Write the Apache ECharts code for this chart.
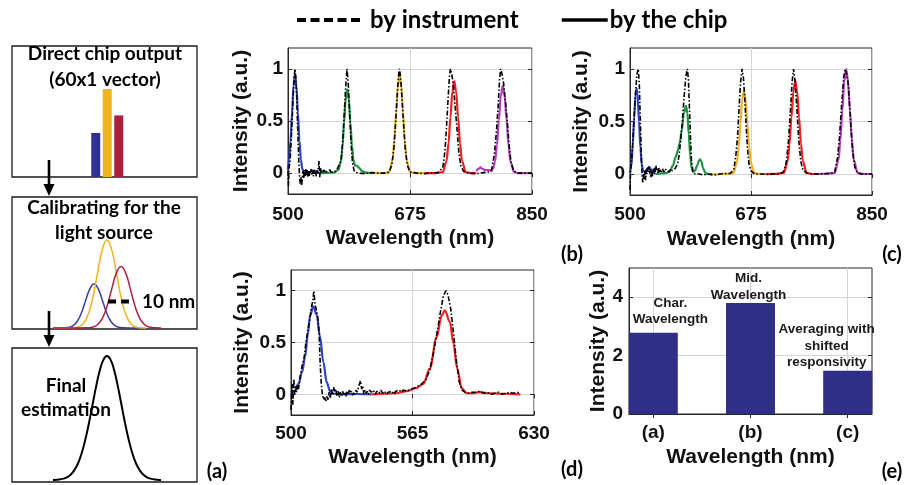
<!DOCTYPE html>
<html><head><meta charset="utf-8">
<script src="https://cdn.jsdelivr.net/npm/echarts@6/dist/echarts.min.js"></script>
<style>html,body{margin:0;padding:0;background:#fff}#c{width:907px;height:485px}</style>
</head><body><div id="c"></div>
<script>
// ---------------- tick labels ----------------
const ticksWideNm = [500, 675, 850];
const ticksZoomNm = [500, 565, 630];
const ticksIntensity = [0, 0.5, 1];
const ticksBarIntensity = [0, 2, 4];

// ---------------- panel (b) ----------------
const bInstrument = [[500,0.02],[500.7,-0.12],[501.5,0.05],[503,0.12],[504.5,0.3],[506,0.52],[507.5,0.75],[509,0.93],[510,1.0],[511,0.93],[512.5,0.72],[514,0.4],[515.5,0.12],[516.5,-0.02],[517.5,-0.1],[518.5,-0.04],[519.5,-0.12],[520.5,-0.06],[521.5,0.02],[522.5,-0.05],[523.5,0.03],[524.5,-0.03],[525.5,0.04],[526.5,-0.02],[527.5,0.03],[528.5,-0.04],[529.5,0.02],[530.5,-0.03],[531.5,0.03],[532.5,0.0],[533.5,0.04],[534.5,-0.02],[535.5,0.02],[536.5,-0.03],[537.5,0.03],[538.5,0.0],[539.5,0.02],[540.5,-0.03],[541.5,0.03],[542.5,0.0],[543.5,0.05],[544.5,0.12],[545.5,-0.04],[546.5,0.05],[547.5,0.0],[548.5,0.03],[550,0.01],[552,0.03],[554,0.0],[556,0.02],[558,0.01],[560,0.03],[562,0.01],[564,0.02],[566,0.01],[568,0.02],[570,0.03],[572,0.03],[576,0.12],[578.5,0.3],[580.5,0.55],[582.5,0.8],[584.6,1.0],[586.5,0.85],[588.5,0.55],[590.5,0.28],[592.5,0.1],[595,0.02],[600,0.0],[610,-0.005],[620,0.005],[630,0.0],[640,0.0],[645,0.01],[649,0.08],[652,0.25],[654.5,0.5],[657,0.78],[659,0.97],[659.7,1.0],[661,0.95],[663,0.78],[665.5,0.5],[668,0.25],[671,0.08],[675,0.01],[685,0.0],[695,-0.005],[705,0.0],[715,0.005],[722,0.05],[725,0.2],[727,0.4],[729.5,0.7],[731.5,0.92],[733,1.0],[735,0.95],[737.5,0.82],[740,0.62],[742.5,0.42],[745,0.2],[748,0.07],[752,0.015],[760,0.0],[770,-0.005],[780,0.005],[787,0.01],[792,0.03],[796,0.18],[799,0.4],[801.5,0.65],[803.5,0.9],[805,1.0],[807,0.95],[809.5,0.85],[812,0.68],[814.5,0.5],[817,0.28],[820,0.1],[824,0.02],[830,0.0],[840,0.0],[850,0.0]];
const bBlue = [[500,0.03],[501.5,0.13],[503.6,0.31],[505.75,0.58],[507.9,0.84],[510,0.95],[512.1,0.84],[514.25,0.58],[516.4,0.31],[518.5,0.13],[520.5,0.04],[522.75,0.01],[527,0.0],[531,0.01],[535,0.025],[539,0.02],[543,0.005],[546,0.0]];
const bGreen = [[546,0],[556,0.003],[566,0.005],[572,0.03],[576,0.108],[578.25,0.26],[580.5,0.485],[582.75,0.706],[585,0.8],[587.25,0.706],[589.5,0.485],[591.75,0.26],[594,0.12],[596,0.075],[599,0.07],[602,0.05],[606,0.02],[612,0.005],[620,0]];
const bYellow = [[620,0],[630,0],[640,0.002],[645,0.0105],[650,0.129],[652.5,0.308],[655,0.576],[657.5,0.838],[660,0.95],[662.5,0.838],[665,0.576],[667.5,0.308],[670,0.129],[675,0.0105],[685,0],[696,0]];
const bRed = [[696,0],[705,0],[715,0.002],[722,0.0098],[727.5,0.119],[730.25,0.286],[733,0.534],[735.75,0.777],[738.5,0.88],[741.25,0.777],[744,0.534],[746.75,0.286],[749.5,0.119],[755,0.0098],[762,0],[770,0]];
const bMagenta = [[770,0.02],[773,0.04],[776,0.055],[779,0.04],[783,0.03],[788,0.03],[792,0.02],[794.5,0.05],[797,0.114],[799.75,0.27],[802.5,0.51],[805.25,0.74],[808,0.84],[810.75,0.74],[813.5,0.51],[816.25,0.27],[819,0.114],[824,0.012],[830,0],[840,0],[850,0]];

// ---------------- panel (c) ----------------
const cInstrument = [[500,-0.15],[500.7,0.02],[502,0.1],[504,0.3],[506,0.55],[508,0.78],[510,0.95],[512,1.0],[513.5,0.85],[515,0.5],[516.5,0.15],[517.5,-0.02],[518.5,-0.08],[519.5,0.0],[520.5,-0.05],[521.5,0.03],[522.5,-0.06],[523.5,0.04],[524.5,0.0],[525.5,0.06],[526.5,0.02],[527.5,0.07],[528.5,0.0],[529.5,0.05],[530.5,-0.03],[531.5,0.03],[532.5,-0.02],[533.5,0.05],[534.5,0.01],[535.5,0.06],[536.5,0.02],[537.5,0.08],[538.5,0.03],[539.5,0.05],[540.5,0.01],[541.5,0.06],[542.5,0.02],[543.5,0.04],[545,0.01],[547,0.05],[549,0.02],[551,0.05],[553,0.03],[555,0.04],[557,0.02],[559,0.05],[561,0.03],[563,0.04],[565,0.05],[567,0.06],[569,0.1],[571,0.18],[573,0.3],[575,0.45],[577,0.62],[579,0.8],[581,0.94],[583,1.0],[584.5,0.9],[586,0.62],[587.5,0.35],[589,0.12],[591,0.03],[594,0.0],[600,0.0],[606,-0.01],[612,0.0],[620,-0.01],[630,0.0],[640,0.005],[645,0.005],[650,0.04],[653,0.17],[655.5,0.35],[658,0.66],[660,0.88],[662,1.0],[664,0.92],[666,0.72],[668,0.45],[670,0.24],[672,0.1],[675,0.03],[680,0.0],[690,0.0],[700,-0.005],[710,0.0],[715,0.0],[722,0.02],[726,0.11],[729,0.3],[732,0.6],[734.5,0.88],[736.5,1.0],[738.5,0.9],[741,0.66],[744,0.33],[747,0.12],[750,0.04],[755,0.01],[765,0.0],[775,0.0],[785,0.005],[790,0.0],[796,0.02],[800,0.15],[803,0.35],[806,0.65],[809,0.92],[811,1.0],[813,0.96],[815,0.9],[817,0.72],[819.5,0.45],[822,0.22],[825,0.07],[829,0.01],[835,0.0],[850,0.0]];
const cBlue = [[500,0.01],[502,0.08],[504,0.28],[506,0.53],[508,0.75],[509.6,0.81],[511,0.76],[513,0.5],[515,0.25],[517,0.09],[519,0.03],[522,0.02],[525,0.05],[528,0.065],[531,0.04],[534,0.01],[537,0]];
const cGreen = [[537,0],[545,0.005],[553,0.01],[558,0.03],[562,0.08],[566,0.16],[569,0.22],[572,0.3],[575,0.42],[578,0.58],[581,0.65],[583,0.58],[585,0.38],[587,0.18],[589,0.06],[591,0.02],[594,0.03],[597,0.08],[600,0.13],[601.5,0.14],[603,0.12],[606,0.05],[609,0.01],[612,0.0],[619,0]];
const cYellow = [[619,0.0],[625,-0.005],[632,0.0],[640,0.002],[649.7,0.009],[654.7,0.108],[657.2,0.26],[659.7,0.485],[662.2,0.706],[664.7,0.8],[667.2,0.706],[669.7,0.485],[672.2,0.26],[674.7,0.108],[679.7,0.009],[688,0],[696,0]];
const cRed = [[696,0],[712,0.002],[722.5,0.0099],[728,0.12],[730.75,0.289],[733.5,0.54],[736.25,0.785],[739,0.89],[741.75,0.785],[744.5,0.54],[747.25,0.289],[750,0.12],[755.5,0.0099],[763,0],[772,0]];
const cMagenta = [[772,0],[785,0.005],[796.1,0.011],[801.6,0.135],[804.35,0.325],[807.1,0.607],[809.85,0.8825],[812.6,1.0],[815.35,0.8825],[818.1,0.607],[820.85,0.325],[823.6,0.135],[829.1,0.011],[838,0],[850,0]];

// ---------------- panel (d) ----------------
const dInstrument = [[500,-0.15],[500.5,0.1],[501,-0.1],[501.5,0.15],[502,0.0],[502.5,0.08],[503,0.02],[503.5,0.1],[504,0.05],[505,0.18],[506,0.28],[507,0.35],[508,0.5],[509,0.62],[510,0.72],[511,0.85],[511.7,0.9],[512.2,1.0],[512.8,0.88],[513.5,0.82],[514.3,0.75],[515,0.6],[515.6,0.3],[516.2,0.1],[516.8,0.0],[517.4,-0.05],[518,-0.03],[518.6,-0.07],[519.2,-0.02],[519.8,-0.06],[520.4,0.02],[521,-0.04],[521.6,0.05],[522.2,0.0],[522.8,0.07],[523.4,0.02],[524,0.05],[524.6,-0.02],[525.2,0.03],[525.8,-0.03],[526.4,0.02],[527,-0.02],[527.6,0.03],[528.2,0.0],[528.8,0.02],[529.4,-0.02],[530,0.03],[530.6,0.0],[531.2,0.04],[531.8,0.01],[532.4,0.03],[533,-0.01],[533.6,0.02],[534.2,0.0],[534.8,0.04],[535.4,0.02],[536,0.06],[536.6,0.1],[537.2,0.13],[537.8,0.05],[538.4,0.08],[539,0.0],[539.6,0.04],[540.2,0.01],[540.8,0.03],[541.4,0.0],[542,0.04],[543,0.02],[544,0.04],[545,0.0],[546,0.03],[547,0.01],[548,0.04],[549,0.01],[550,0.03],[551,0.0],[552,0.02],[553,0.01],[554,0.03],[555,0.0],[556,0.03],[557,0.02],[558,0.04],[559,0.02],[560,0.04],[562,0.03],[564,0.05],[566,0.06],[568,0.08],[570,0.1],[572,0.14],[574,0.22],[576,0.38],[578,0.58],[580,0.8],[581.5,0.95],[582.9,1.0],[584,0.96],[585.5,0.82],[587,0.58],[588.5,0.32],[590,0.12],[591.5,0.04],[593,0.02],[595,0.01],[597,0.02],[599,0.02],[601,0.03],[603,0.01],[605,0.02],[607,0.0],[609,0.01],[611,0.02],[613,0.0],[615,0.01],[617,0.02],[619,0.01],[621,0.02],[622.7,0.01]];
const dBlue = [[500,0.0],[502,0.03],[504,0.1],[506,0.22],[507.5,0.36],[509,0.58],[510.2,0.76],[511.9,0.85],[513.7,0.77],[515.5,0.56],[517.3,0.31],[519.1,0.115],[520.9,0.03],[523,0.005],[527,0],[535,0.003],[543,0]];
const dRed = [[543,0],[550,0.005],[556,0.01],[562,0.03],[567,0.06],[570.8,0.1],[574.3,0.25],[577.9,0.55],[580.6,0.76],[582.3,0.81],[585,0.7],[586.8,0.5],[588.9,0.25],[591.3,0.06],[594,0.01],[597,0.01],[601,0.02],[606,0.01],[614,0.005],[622.7,0]];

// ---------------- panel (e) ----------------
const eCategories = ['(a)', '(b)', '(c)'];
const eValues = [2.78, 3.8, 1.48];
const eNotes = ['Char.\nWavelength', 'Mid.\nWavelength', 'Averaging with\nshifted\nresponsivity'];

// ---------------- panel (a) schematic ----------------
const aBarValues = [0.5, 1.0, 0.7];
const aGaussBlue = [[0,0],[3,0.0003],[7,0.0056],[9,0.022],[11,0.068],[13,0.162],[15,0.303],[17,0.441],[19,0.5],[21,0.441],[23,0.303],[25,0.162],[27,0.068],[29,0.022],[31,0.0056],[35,0.0003],[40,0]];
const aGaussYellow = [[0,0],[5,0.0001],[9.25,0.002],[11.5,0.011],[13.75,0.044],[16,0.135],[18.25,0.325],[20.5,0.607],[22.75,0.8825],[25,1],[27.25,0.8825],[29.5,0.607],[31.75,0.325],[34,0.135],[36.25,0.044],[38.5,0.011],[40.75,0.002],[43,0]];
const aGaussRed = [[0,0],[10,0.0001],[15.75,0.0015],[18,0.0078],[20.25,0.031],[22.5,0.0945],[24.75,0.2275],[27,0.4246],[29.25,0.6178],[31.5,0.7],[33.75,0.6178],[36,0.4246],[38.25,0.2275],[40.5,0.0945],[42.75,0.031],[45,0.0078],[47.25,0.0015],[50,0]];
const aScaleBar = [[25.5,0.3],[35.6,0.3]];
const aFinal = [[0,0],[1.55,0.002],[4.9,0.011],[6.575,0.023],[8.25,0.044],[9.925,0.08],[11.6,0.135],[13.275,0.216],[14.95,0.325],[16.625,0.458],[18.3,0.6065],[19.975,0.755],[21.65,0.8825],[23.325,0.969],[25,1],[26.675,0.969],[28.35,0.8825],[30.025,0.755],[31.7,0.6065],[33.375,0.458],[35.05,0.325],[36.725,0.216],[38.4,0.135],[40.075,0.08],[41.75,0.044],[43.425,0.023],[45.1,0.011],[48.45,0.002],[50,0]];

// ---------------- styling ----------------
const FA = '"Liberation Sans", Arial, sans-serif';
const FC = 'Lato, "Open Sans", sans-serif';
const INK = '#111111', FRAME = '#262626', GRIDC = '#d4d4d4';
const COL = {blue:'#2c40c4', green:'#1f9142', yellow:'#edb120', red:'#f41e1e', magenta:'#b73cbd'};
const A_BAR_COLORS = ['#2e3192', '#f0b51e', '#ad1f3d'];
const E_BAR = '#2f2f88';

function specX(gi, min, max, ticks, margin, gap) {
  return {type:'value', gridIndex:gi, min, max,
    name:'Wavelength (nm)', nameLocation:'middle', nameGap:gap,
    nameTextStyle:{fontFamily:FA, fontWeight:'bold', fontSize:21, color:INK},
    axisLine:{show:true, onZero:false, lineStyle:{color:FRAME, width:1}},
    axisTick:{show:true, inside:true, length:4, customValues:ticks, lineStyle:{color:FRAME}},
    axisLabel:{customValues:ticks, margin, fontFamily:FA, fontWeight:'bold', fontSize:19, color:INK},
    splitLine:{show:true, lineStyle:{color:GRIDC, width:1}}};
}
function specY(gi, min, max, ticks, gap, margin) {
  return {type:'value', gridIndex:gi, min, max,
    name:'Intensity (a.u.)', nameLocation:'middle', nameGap:gap,
    nameTextStyle:{fontFamily:FA, fontWeight:'bold', fontSize:21, color:INK},
    axisLine:{show:true, onZero:false, lineStyle:{color:FRAME, width:1}},
    axisTick:{show:true, inside:true, length:4, customValues:ticks, lineStyle:{color:FRAME}},
    axisLabel:{customValues:ticks, margin, fontFamily:FA, fontWeight:'bold', fontSize:19, color:INK},
    splitLine:{show:true, lineStyle:{color:GRIDC, width:1}}};
}
function mirror(gi, pos, min, max, ticks) {
  return {type:'value', gridIndex:gi, position:pos, min, max,
    axisLine:{show:false}, axisLabel:{show:false}, splitLine:{show:false},
    axisTick:{show:true, inside:true, length:4, customValues:ticks, lineStyle:{color:FRAME}}};
}
function hiddenAxis(gi, type, min, max, data) {
  const a = {type, gridIndex:gi, show:false, splitLine:{show:false}};
  if (type === 'category') a.data = data; else { a.min = min; a.max = max; }
  return a;
}
function chip(data, color, gi) {
  return {type:'line', xAxisIndex:gi, yAxisIndex:gi, data, smooth:0.35, smoothMonotone:'x',
    symbol:'none', lineStyle:{color, width:2.2}, itemStyle:{color}, z:3};
}
function inst(data, gi) {
  return {name:'by instrument', type:'line', xAxisIndex:gi, yAxisIndex:gi, data, symbol:'none',
    lineStyle:{color:'#000', width:1.6, type:[5,2,1.5,2]}, itemStyle:{color:'#000'}, z:4};
}
function schem(data, color, gi, width) {
  return {type:'line', xAxisIndex:gi, yAxisIndex:gi, data, smooth:0.5,
    symbol:'none', clip:false, lineStyle:{color, width}, itemStyle:{color}, z:3};
}
const box = {show:true, borderColor:FRAME, borderWidth:1, backgroundColor:'transparent'};

const txt = (text, x, y, size, align) => ({type:'text', x, y, z:100,
  style:{text, font:'bold ' + size + 'px ' + FC, fill:'#000', align:align || 'center', verticalAlign:'middle'}});
const rect = (x, y, w, h) => ({type:'rect', shape:{x, y, width:w, height:h}, z:1,
  style:{fill:'none', stroke:'#1a1a1a', lineWidth:1.3}});
const arrow = (x, y1, y2) => ([
  {type:'line', shape:{x1:x, y1:y1, x2:x, y2:y2 - 10}, z:5, style:{stroke:'#000', lineWidth:2.6}},
  {type:'polygon', shape:{points:[[x - 5.5, y2 - 12], [x + 5.5, y2 - 12], [x, y2]]}, z:5, style:{fill:'#000'}}
]);

const option = {
  animation:false,
  backgroundColor:'#ffffff',
  legend:[
    {data:['by instrument'], left:295, top:8, padding:0, itemWidth:63, itemHeight:24, selectedMode:false,
     lineStyle:{width:4, type:[9,4.5], color:'#000'}, itemStyle:{opacity:0},
     textStyle:{fontFamily:FC, fontWeight:'bold', fontSize:24, color:'#000', padding:[0,0,0,5]}},
    {data:['by the chip'], left:560, top:8, padding:0, itemWidth:46, itemHeight:24, selectedMode:false,
     lineStyle:{width:3.5, type:'solid', color:'#000'}, itemStyle:{opacity:0},
     textStyle:{fontFamily:FC, fontWeight:'bold', fontSize:24, color:'#000', padding:[0,0,0,-3]}}
  ],
  grid:[
    Object.assign({left:288, top:48, width:244, height:146}, box),
    Object.assign({left:630, top:48, width:242, height:147}, box),
    Object.assign({left:291, top:270, width:243, height:145}, box),
    Object.assign({left:629, top:268, width:243, height:146}, box),
    {left:90, top:89, width:34.5, height:88},
    {left:53, top:240, width:108, height:88},
    {left:53, top:356, width:108, height:124}
  ],
  xAxis:[
    specX(0, 500, 850, ticksWideNm, 11, 34),
    specX(1, 500, 850, ticksWideNm, 10, 34),
    specX(2, 500, 630, ticksZoomNm, 9, 32),
    Object.assign(specX(3, 0.75, 3.25, [1,2,3], 9, 33), {
      axisLabel:{customValues:[1,2,3], margin:9, fontFamily:FA, fontWeight:'bold', fontSize:19, color:INK,
        formatter:(v) => eCategories[Math.round(v) - 1]}}),
    hiddenAxis(4, 'category', 0, 0, ['1','2','3']),
    hiddenAxis(5, 'value', 0, 50),
    hiddenAxis(6, 'value', 0, 50),
    mirror(0, 'top', 500, 850, ticksWideNm),
    mirror(1, 'top', 500, 850, ticksWideNm),
    mirror(2, 'top', 500, 630, ticksZoomNm),
    mirror(3, 'top', 0.75, 3.25, [1,2,3])
  ],
  yAxis:[
    specY(0, -0.2, 1.2, ticksIntensity, 36, 5),
    specY(1, -0.2, 1.2, ticksIntensity, 38, 5),
    specY(2, -0.2, 1.2, ticksIntensity, 38, 5),
    specY(3, 0, 5, ticksBarIntensity, 19, 6),
    hiddenAxis(4, 'value', 0, 1),
    hiddenAxis(5, 'value', 0, 1),
    hiddenAxis(6, 'value', 0, 1),
    mirror(0, 'right', -0.2, 1.2, ticksIntensity),
    mirror(1, 'right', -0.2, 1.2, ticksIntensity),
    mirror(2, 'right', -0.2, 1.2, ticksIntensity),
    mirror(3, 'right', 0, 5, ticksBarIntensity)
  ],
  series:[
    chip(bBlue, COL.blue, 0), chip(bGreen, COL.green, 0), chip(bYellow, COL.yellow, 0),
    chip(bRed, COL.red, 0), chip(bMagenta, COL.magenta, 0), inst(bInstrument, 0),
    chip(cBlue, COL.blue, 1), chip(cGreen, COL.green, 1), chip(cYellow, COL.yellow, 1),
    chip(cRed, COL.red, 1), chip(cMagenta, COL.magenta, 1), inst(cInstrument, 1),
    chip(dBlue, COL.blue, 2), chip(dRed, COL.red, 2), inst(dInstrument, 2),
    {type:'bar', xAxisIndex:3, yAxisIndex:3, barWidth:49, z:3,
     itemStyle:{color:E_BAR},
     data: eValues.map((v, i) => ({value:[i + 1, v],
       label:{show:true, position:'top', formatter:eNotes[i], fontFamily:FA, fontWeight:'bold',
         fontSize:13.5, lineHeight:16.5, color:'#1a1a1a', align:'center',
         distance:[5, 0, 0][i], offset:[[17, 0], [-2, 0], [-21, 0]][i]}}))},
    {type:'bar', xAxisIndex:4, yAxisIndex:4, barWidth:9, z:3,
     data: aBarValues.map((v, i) => ({value:v, itemStyle:{color:A_BAR_COLORS[i]}}))},
    schem(aGaussBlue, '#3a3e9c', 5, 1.5),
    schem(aGaussYellow, '#f2b31c', 5, 1.5),
    schem(aGaussRed, '#ad1f3d', 5, 1.5),
    {type:'line', xAxisIndex:5, yAxisIndex:5, data:aScaleBar, symbol:'none', clip:false, z:4,
     lineStyle:{color:'#000', width:4, type:[8,5]}},
    schem(aFinal, '#000', 6, 2),
    {name:'by the chip', type:'line', xAxisIndex:0, yAxisIndex:0, data:[], symbol:'none',
     lineStyle:{color:'#000', width:3.5}, itemStyle:{color:'#000'}}
  ],
  graphic:[
    rect(12, 46, 185, 131), rect(12, 197, 185, 132), rect(12, 348, 185, 134),
    ...arrow(49, 160, 196), ...arrow(49, 311, 347),
    txt('Direct chip output', 105, 54, 19), txt('(60x1 vector)', 105, 80, 19),
    txt('Calibrating for the', 104, 208, 19), txt('light source', 104, 233, 19),
    txt('10 nm', 142, 302, 19, 'left'),
    txt('Final', 66, 386, 19), txt('estimation', 66, 410, 19),
    txt('(a)', 217, 472, 20), txt('(b)', 572, 255, 20), txt('(c)', 892, 255, 20),
    txt('(d)', 572, 470, 20), txt('(e)', 892, 472, 20)
  ]
};
const chart = echarts.init(document.getElementById('c'), null, {renderer:'canvas'});
chart.setOption(option);
</script></body></html>
